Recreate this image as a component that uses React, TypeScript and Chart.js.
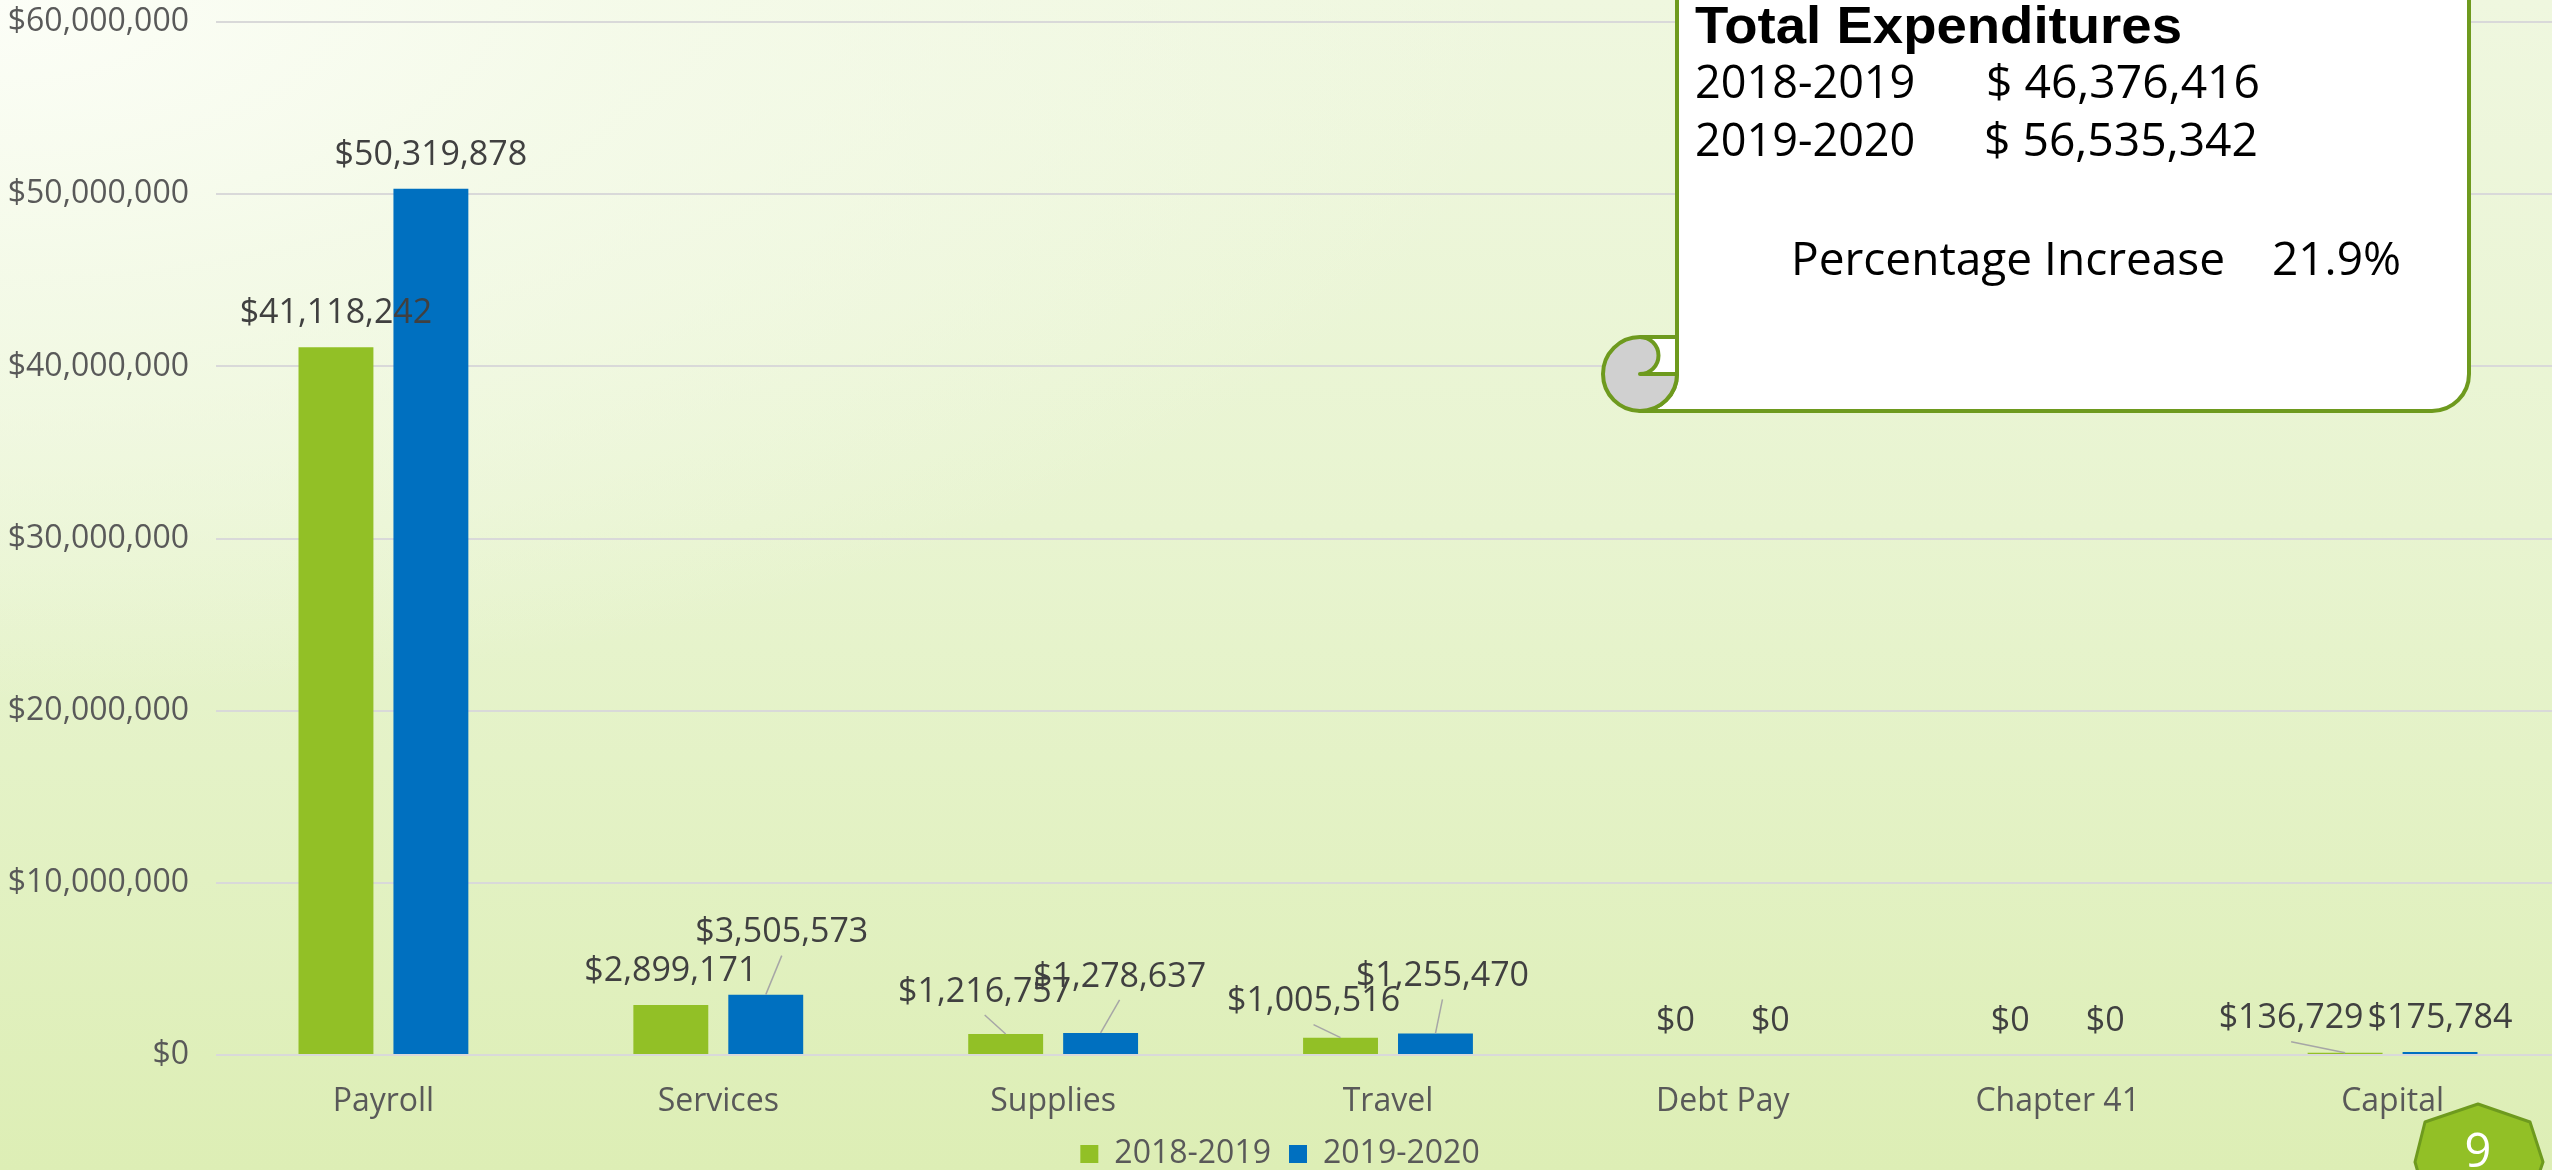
import { useEffect, useRef } from 'react';
import { Chart, registerables } from 'chart.js';

Chart.register(...registerables);

// ---------- data ----------
const categories = ['Payroll', 'Services', 'Supplies', 'Travel', 'Debt Pay', 'Chapter 41', 'Capital'];
const seriesNames = ['2018-2019', '2019-2020'];
const expenditures2018_19 = [41118242, 2899171, 1216757, 1005516, 0, 0, 136729];
const expenditures2019_20 = [50319878, 3505573, 1278637, 1255470, 0, 0, 175784];
const yTickValues = [0, 10000000, 20000000, 30000000, 40000000, 50000000, 60000000];

const calloutTitle = 'Total Expenditures';
const calloutYears = ['2018-2019', '2019-2020'];
const calloutTotals = ['$ 46,376,416', '$ 56,535,342'];
const calloutPctLabel = 'Percentage Increase';
const calloutPct = '21.9%';
const pageNumber = '9';

// label nudges (layout only, dx/dy in px) for labels moved off their bars
const labelNudge2018_19 = [[0, 0], [0, 0], [-21, -8], [-27, -2], [0, 0], [0, 0], [-54, 0]];
const labelNudge2019_20 = [[0, 0], [16, -28], [19, -22], [7, -23], [0, 0], [0, 0], [0, 0]];
const labelNudges = [labelNudge2018_19, labelNudge2019_20];

// ---------- styles ----------
const FONT = '"Open Sans", sans-serif';
const GREEN = '#92C026';
const BLUE = '#0070C0';
const DARK_GREEN = '#6E9A1E';
const TEXT = '#595959';

const money = (v: number) => '$' + Math.round(v).toLocaleString('en-US');

const dataLabelPlugin = {
  id: 'dataLabels',
  afterDatasetsDraw(chart: any) {
    const ctx = chart.ctx as CanvasRenderingContext2D;
    ctx.save();
    chart.data.datasets.forEach((ds: any, di: number) => {
      const meta = chart.getDatasetMeta(di);
      const nudges = labelNudges[di];
      meta.data.forEach((bar: any, i: number) => {
        const v = ds.data[i] as number;
        const [dx, dy] = nudges[i];
        const lx = bar.x + dx;
        const ly = bar.y - 34 + dy;
        if (dx !== 0 || dy !== 0) {
          ctx.beginPath();
          ctx.strokeStyle = '#a6a6a6';
          ctx.lineWidth = 1.5;
          ctx.moveTo(bar.x, bar.y);
          ctx.lineTo(lx, ly + 23);
          ctx.stroke();
        }
        ctx.fillStyle = '#404040';
        ctx.font = `34px ${FONT}`;
        ctx.textAlign = 'center';
        ctx.textBaseline = 'middle';
        ctx.fillText(money(v), lx, ly);
      });
    });
    ctx.restore();
  },
};

const fitText = (ctx: CanvasRenderingContext2D, text: string, x: number, y: number, width: number) => {
  const w = ctx.measureText(text).width;
  ctx.save();
  ctx.translate(x, y);
  ctx.scale(width / w, 1);
  ctx.fillText(text, 0, 0);
  ctx.restore();
};

const decorPlugin = {
  id: 'decor',
  afterDraw(chart: any) {
    const ctx = chart.ctx as CanvasRenderingContext2D;
    ctx.save();
    ctx.lineWidth = 4;
    ctx.strokeStyle = DARK_GREEN;
    ctx.lineJoin = 'round';
    // scroll body
    ctx.beginPath();
    ctx.moveTo(1677, -10);
    ctx.lineTo(1677, 374);
    ctx.arc(1640, 374, 37, 0, Math.PI / 2);
    ctx.lineTo(2432, 411);
    ctx.arcTo(2469, 411, 2469, 374, 37);
    ctx.lineTo(2469, -10);
    ctx.closePath();
    ctx.fillStyle = '#ffffff';
    ctx.fill();
    ctx.stroke();
    // curl
    ctx.beginPath();
    ctx.arc(1640, 374, 37, 0, Math.PI * 2);
    ctx.fillStyle = '#d0d0d0';
    ctx.fill();
    ctx.stroke();
    ctx.beginPath();
    ctx.moveTo(1640, 337);
    ctx.lineTo(1677, 337);
    ctx.lineTo(1677, 374);
    ctx.lineTo(1640, 374);
    ctx.arc(1640, 355.5, 18.5, Math.PI / 2, -Math.PI / 2, true);
    ctx.fillStyle = '#ffffff';
    ctx.fill();
    ctx.stroke();

    // callout text
    ctx.fillStyle = '#000000';
    ctx.textAlign = 'left';
    ctx.textBaseline = 'alphabetic';
    ctx.font = `bold 52px "Liberation Sans", Arial, sans-serif`;
    fitText(ctx, calloutTitle, 1695, 43, 487);
    ctx.font = `45px ${FONT}`;
    ctx.fillText(calloutYears[0], 1695, 98);
    fitText(ctx, calloutTotals[0], 1986, 98, 274);
    ctx.fillText(calloutYears[1], 1695, 156);
    fitText(ctx, calloutTotals[1], 1984, 156, 274);
    ctx.font = `46px ${FONT}`;
    ctx.fillText(calloutPctLabel, 1791, 275);
    ctx.fillText(calloutPct, 2272, 275);

    // page number badge
    ctx.beginPath();
    ctx.moveTo(2478, 1104);
    ctx.lineTo(2530, 1122);
    ctx.lineTo(2543, 1162);
    ctx.lineTo(2530, 1200);
    ctx.lineTo(2426, 1200);
    ctx.lineTo(2415, 1162);
    ctx.lineTo(2425, 1122);
    ctx.closePath();
    ctx.fillStyle = GREEN;
    ctx.lineWidth = 3;
    ctx.fill();
    ctx.stroke();
    ctx.fillStyle = '#ffffff';
    ctx.font = `47px ${FONT}`;
    ctx.textAlign = 'center';
    ctx.fillText(pageNumber, 2478, 1167);
    ctx.restore();
  },
};

export default function App() {
  const ref = useRef<HTMLCanvasElement>(null);

  useEffect(() => {
    document.body.style.margin = '0';
    document.body.style.overflow = 'hidden';
    const chart = new Chart(ref.current as HTMLCanvasElement, {
      type: 'bar',
      data: {
        labels: categories,
        datasets: [
          { label: seriesNames[0], data: expenditures2018_19, backgroundColor: GREEN, borderWidth: 0 },
          { label: seriesNames[1], data: expenditures2019_20, backgroundColor: BLUE, borderWidth: 0 },
        ],
      },
      options: {
        responsive: false,
        animation: false,
        datasets: { bar: { categoryPercentage: 0.567, barPercentage: 0.789 } },
        layout: { padding: { top: 0, left: 0, right: 0, bottom: 0 } },
        plugins: {
          legend: {
            position: 'bottom',
            labels: {
              boxWidth: 18,
              boxHeight: 18,
              padding: 18,
              color: TEXT,
              font: { family: FONT, size: 32, lineHeight: 1 },
            },
          },
          tooltip: { enabled: false },
        },
        scales: {
          x: {
            grid: { display: false },
            border: { display: false },
            ticks: { color: TEXT, font: { family: FONT, size: 32 }, padding: 20 },
            afterFit: (s: any) => { s.height = 65; },
          },
          y: {
            min: yTickValues[0],
            max: yTickValues[yTickValues.length - 1],
            afterBuildTicks: (s: any) => { s.ticks = yTickValues.map((v) => ({ value: v })); },
            ticks: {
              color: TEXT,
              font: { family: FONT, size: 32 },
              padding: 3,
              callback: (v: any) => money(Number(v)),
            },
            grid: {
              color: '#d9d9d9',
              lineWidth: 2,
              drawTicks: true,
              tickLength: 24,
              tickColor: 'rgba(0,0,0,0)',
            },
            border: { display: false },
            afterFit: (s: any) => { s.width = 216; },
          },
        },
      } as any,
      plugins: [dataLabelPlugin, decorPlugin],
    });
    return () => chart.destroy();
  }, []);

  return (
    <div
      style={{
        position: 'fixed',
        left: 0,
        top: 0,
        width: 2552,
        height: 1170,
        overflow: 'hidden',
        background:
          'radial-gradient(ellipse 60% 60% at 0% 0%, rgba(252,254,247,1) 0%, rgba(246,251,236,0.8) 40%, rgba(240,248,224,0) 100%), linear-gradient(180deg, #eff7df 0%, #e8f4d0 45%, #e2f1c2 75%, #ddeeb5 100%)',
      }}
    >
      <canvas ref={ref} width={2560} height={1180} style={{ display: 'block', width: 2560, height: 1180 }} />
    </div>
  );
}
